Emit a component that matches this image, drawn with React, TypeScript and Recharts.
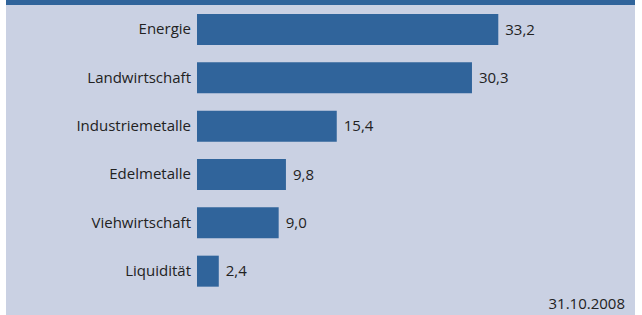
import React from "react";
import { BarChart, Bar, XAxis, YAxis, LabelList } from "recharts";

const sectors = ["Energie", "Landwirtschaft", "Industriemetalle", "Edelmetalle", "Viehwirtschaft", "Liquidität"];
const weights = [33.2, 30.3, 15.4, 9.8, 9.0, 2.4];
const dateLabel = "31.10.2008";

const data = sectors.map((name, i) => ({ name, value: weights[i] }));

const FONT = "'Open Sans', sans-serif";
const BAR = "#30649b";
const BG = "#cad1e3";
const TEXT = "#222222";

const fmt = (v: any) => Number(v).toFixed(1).replace(".", ",");

export default function App() {
  return (
    <div style={{ position: "absolute", left: 0, top: 0, width: 642, height: 315, background: "#fff", fontFamily: FONT }}>
      <div style={{ position: "absolute", left: 6, top: 0, width: 629, height: 315, background: BG }}>
        <div style={{ height: 5, background: BAR }} />
        <BarChart
          width={629}
          height={310}
          data={data}
          layout="vertical"
          margin={{ top: 0, right: 75, bottom: 20, left: 0 }}
          barSize={31}
        >
          <XAxis type="number" domain={[0, 40]} hide />
          <YAxis
            type="category"
            dataKey="name"
            width={191}
            axisLine={false}
            tickLine={false}
            tickSize={0}
            tickMargin={6}
            tick={{ fill: TEXT, fontSize: 15, fontFamily: FONT }}
          />
          <Bar dataKey="value" fill={BAR} isAnimationActive={false}>
            <LabelList
              dataKey="value"
              position="right"
              offset={7}
              formatter={fmt}
              style={{ fill: TEXT, fontSize: 15, fontFamily: FONT }}
            />
          </Bar>
        </BarChart>
        <div style={{ position: "absolute", right: 10, top: 293, fontSize: 15, color: TEXT, lineHeight: "20px" }}>
          {dateLabel}
        </div>
      </div>
    </div>
  );
}
